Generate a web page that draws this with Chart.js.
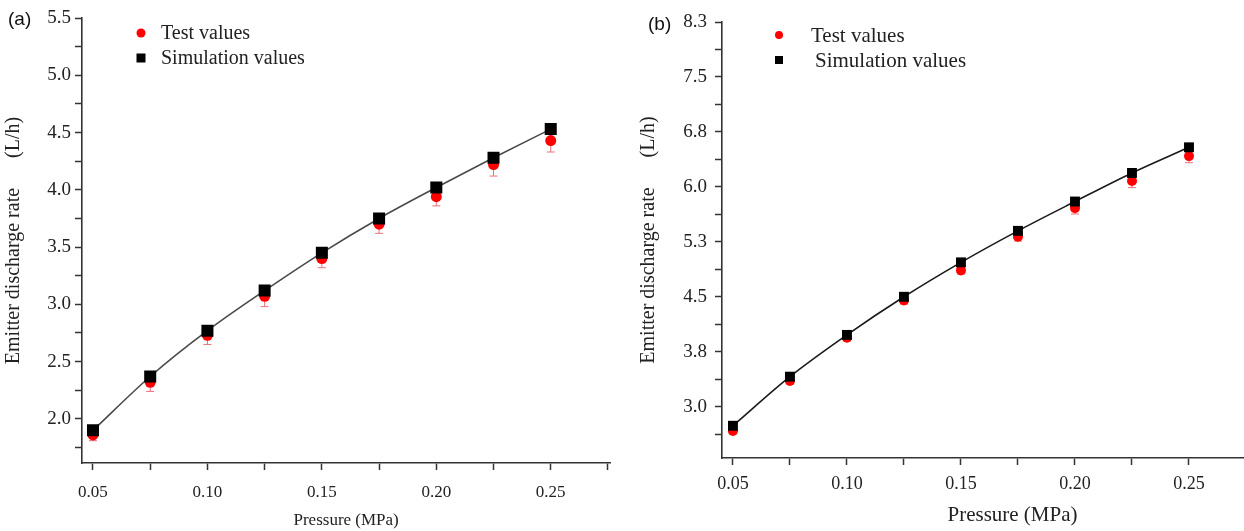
<!DOCTYPE html>
<html>
<head>
<meta charset="utf-8">
<script src="https://cdn.jsdelivr.net/npm/chart.js@4.4.0/dist/chart.umd.min.js"></script>
<style>
  html, body { margin: 0; padding: 0; background: #fff; overflow: hidden; }
  #wrap { position: relative; width: 1244px; height: 531px; overflow: hidden; }
  canvas { position: absolute; top: 0; }
  #chartA { left: 0; }
  #chartB { left: 620px; }
  .tag { position: absolute; font-family: "Liberation Sans", Arial, sans-serif; font-size: 19px; color: #111; }
</style>
</head>
<body>
<div id="wrap">
  <canvas id="chartA" width="620" height="531"></canvas>
  <canvas id="chartB" width="690" height="531"></canvas>
  <div class="tag" style="left:8px;top:8px">(a)</div>
  <div class="tag" style="left:648px;top:13px">(b)</div>
</div>
<script>
// pressure levels (MPa)
const pressure = [0.05, 0.075, 0.10, 0.125, 0.15, 0.175, 0.20, 0.225, 0.25];

// panel (a)
const testA = [1.86, 2.32, 2.73, 3.07, 3.40, 3.70, 3.94, 4.22, 4.43];
const errA = [0.05, 0.08, 0.08, 0.09, 0.08, 0.08, 0.08, 0.10, 0.10];
const simA = [1.90, 2.37, 2.77, 3.12, 3.45, 3.75, 4.02, 4.28, 4.53];

// panel (b)
const testB = [2.67, 3.35, 3.94, 4.45, 4.86, 5.32, 5.71, 6.08, 6.42];
const errB = [0.03, 0.04, 0.04, 0.05, 0.05, 0.06, 0.08, 0.09, 0.09];
const simB = [2.74, 3.41, 3.98, 4.50, 4.97, 5.40, 5.80, 6.19, 6.54];

const seriesNames = ["Test values", "Simulation values"];

const xTicks = [0.05, 0.10, 0.15, 0.20, 0.25];
const xTickLabels = ["0.05", "0.10", "0.15", "0.20", "0.25"];
const yTicksA = [2.0, 2.5, 3.0, 3.5, 4.0, 4.5, 5.0, 5.5];
const yTickLabelsA = ["2.0", "2.5", "3.0", "3.5", "4.0", "4.5", "5.0", "5.5"];
const yTicksB = [3.0, 3.75, 4.5, 5.25, 6.0, 6.75, 7.5, 8.25];
const yTickLabelsB = ["3.0", "3.8", "4.5", "5.3", "6.0", "6.8", "7.5", "8.3"];

const SERIF = "'Liberation Serif', 'Times New Roman', serif";

const toPoints = (ys) => ys.map((y, i) => ({ x: pressure[i], y: y }));

const labelFor = (v, ticks, labels) => {
  const i = ticks.findIndex((t) => Math.abs(t - v) < 1e-6);
  return i < 0 ? "" : labels[i];
};

// majors plus a minor tick half a step on each side
const withMinors = (ticks) => {
  const step = ticks[1] - ticks[0];
  const out = [ticks[0] - step / 2];
  ticks.forEach((t) => out.push(t, t + step / 2));
  return out;
};

const errorBars = {
  id: "errorBars",
  beforeDatasetsDraw(chart, args, opts) {
    const { ctx } = chart;
    const xs = chart.scales.x;
    const ys = chart.scales.y;
    const data = chart.data.datasets[0].data;
    ctx.save();
    ctx.strokeStyle = opts.color;
    ctx.lineWidth = 1;
    opts.errors.forEach((e, i) => {
      const px = xs.getPixelForValue(data[i].x);
      const top = ys.getPixelForValue(data[i].y + e);
      const bot = ys.getPixelForValue(data[i].y - e);
      ctx.beginPath();
      ctx.moveTo(px, top);
      ctx.lineTo(px, bot);
      ctx.moveTo(px - opts.cap, top);
      ctx.lineTo(px + opts.cap, top);
      ctx.moveTo(px - opts.cap, bot);
      ctx.lineTo(px + opts.cap, bot);
      ctx.stroke();
    });
    ctx.restore();
  },
};

const insideLegend = {
  id: "insideLegend",
  afterDraw(chart, args, opts) {
    const { ctx } = chart;
    const { left, top } = chart.chartArea;
    ctx.save();
    ctx.font = opts.fontSize + "px " + SERIF;
    ctx.textBaseline = "middle";
    chart.data.datasets.forEach((ds, i) => {
      const mx = left + opts.markerX;
      const my = top + opts.rowY[i];
      const r = opts.markerR;
      ctx.fillStyle = ds.backgroundColor;
      ctx.beginPath();
      if (ds.pointStyle === "rect") {
        ctx.rect(mx - r, my - r, 2 * r, 2 * r);
      } else {
        ctx.arc(mx, my, r, 0, Math.PI * 2);
      }
      ctx.fill();
      ctx.fillStyle = "#222";
      ctx.fillText(ds.label, left + opts.textX[i], my + 1);
    });
    ctx.restore();
  },
};

function makeChart(canvasId, p) {
  return new Chart(document.getElementById(canvasId), {
    type: "scatter",
    data: {
      datasets: [
        {
          label: seriesNames[0],
          data: toPoints(p.test),
          pointStyle: "circle",
          pointRadius: p.circleR,
          backgroundColor: "#ff0000",
          borderColor: "#ff0000",
          borderWidth: 0,
          showLine: false,
          order: 2,
        },
        {
          label: seriesNames[1],
          data: toPoints(p.sim),
          pointStyle: "rect",
          pointRadius: p.rectR,
          backgroundColor: "#000000",
          pointBorderWidth: 0,
          borderColor: p.lineColor,
          borderWidth: 1.6,
          showLine: true,
          cubicInterpolationMode: "monotone",
          order: 1,
        },
      ],
    },
    options: {
      responsive: false,
      animation: false,
      events: [],
      layout: { padding: p.padding },
      scales: {
        x: {
          type: "linear",
          min: p.xMin,
          max: p.xMax,
          afterBuildTicks: (s) => {
            s.ticks = withMinors(xTicks).slice(1).map((v) => ({ value: v }));
          },
          afterFit: (s) => {
            s.height = p.xHeight;
          },
          ticks: {
            autoSkip: false,
            maxRotation: 0,
            padding: p.xTickPad,
            color: "#222",
            font: { family: SERIF, size: p.xTickSize },
            callback: (v) => labelFor(v, xTicks, xTickLabels),
          },
          grid: {
            drawOnChartArea: false,
            drawTicks: true,
            tickLength: 7,
            tickColor: "#333",
            tickWidth: 1.5,
          },
          border: { display: true, color: "#333", width: 1.6 },
          title: {
            display: true,
            text: "Pressure (MPa)",
            color: "#222",
            font: { family: SERIF, size: p.xTitleSize },
            padding: { top: 0, bottom: p.xTitlePad },
          },
        },
        y: {
          type: "linear",
          min: p.yMin,
          max: p.yMax,
          afterBuildTicks: (s) => {
            s.ticks = withMinors(p.yTicks).slice(0, -1).map((v) => ({ value: v }));
          },
          afterFit: (s) => {
            s.width = p.yWidth;
          },
          ticks: {
            autoSkip: false,
            padding: p.yTickPad,
            color: "#222",
            font: { family: SERIF, size: p.yTickSize },
            callback: (v) => labelFor(v, p.yTicks, p.yLabels),
          },
          grid: {
            drawOnChartArea: false,
            drawTicks: true,
            tickLength: 7,
            tickColor: "#333",
            tickWidth: 1.5,
          },
          border: { display: true, color: "#333", width: 1.6 },
          title: {
            display: true,
            text: "Emitter discharge rate\u2003\u2002(L/h)",
            color: "#222",
            font: { family: SERIF, size: 20 },
            padding: { top: p.yTitlePad, bottom: 0 },
          },
        },
      },
      plugins: {
        legend: { display: false },
        tooltip: { enabled: false },
        errorBars: { errors: p.err, color: "#e8707a", cap: 4 },
        insideLegend: p.legend,
      },
    },
    plugins: [errorBars, insideLegend],
  });
}

makeChart("chartA", {
  test: testA,
  sim: simA,
  err: errA,
  yTicks: yTicksA,
  yLabels: yTickLabelsA,
  xMin: 0.0452,
  xMax: 0.276,
  yMin: 1.615,
  yMax: 5.5,
  padding: { top: 18, right: 6, left: 0, bottom: 0 },
  xHeight: 68,
  yWidth: 82,
  xTickPad: 12,
  yTickPad: 4,
  xTickSize: 17,
  yTickSize: 19,
  xTitleSize: 17,
  xTitlePad: 0,
  yTitlePad: 2,
  circleR: 5.5,
  rectR: 8.5,
  lineColor: "#4a4a4a",
  legend: { markerX: 59, rowY: [15, 40], markerR: 4.5, textX: [79, 79], fontSize: 20 },
});

makeChart("chartB", {
  test: testB,
  sim: simB,
  err: errB,
  yTicks: yTicksB,
  yLabels: yTickLabelsB,
  xMin: 0.0452,
  xMax: 0.30,
  yMin: 2.3,
  yMax: 8.25,
  padding: { top: 22, right: 3, left: 0, bottom: 0 },
  xHeight: 73,
  yWidth: 102,
  xTickPad: 8,
  yTickPad: 8,
  xTickSize: 18,
  yTickSize: 19,
  xTitleSize: 21,
  xTitlePad: 3,
  yTitlePad: 17,
  circleR: 5,
  rectR: 7,
  lineColor: "#1a1a1a",
  legend: { markerX: 57, rowY: [13, 38], markerR: 4, textX: [89, 93], fontSize: 21 },
});
</script>
</body>
</html>
